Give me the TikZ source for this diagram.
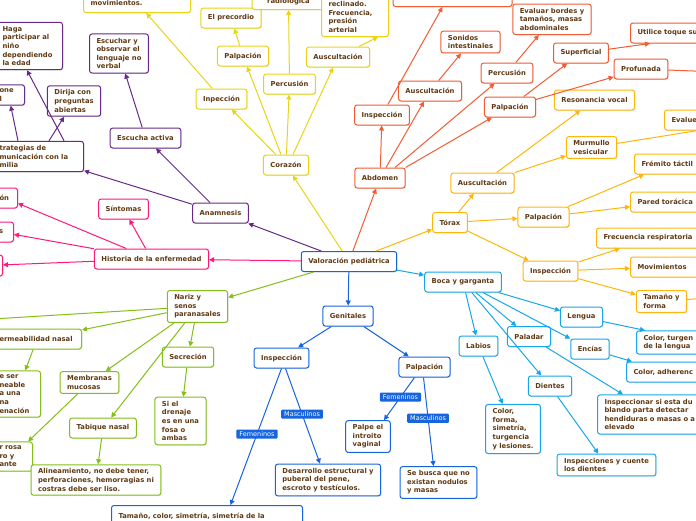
\documentclass[tikz,border=0pt]{standalone}
\usepackage{fontspec}
\setmainfont{DejaVu Sans}
\usetikzlibrary{arrows.meta,positioning,shadows}
\definecolor{txtc}{RGB}{96,58,20}
\definecolor{yel}{RGB}{232,212,20}
\definecolor{red}{RGB}{240,92,52}
\definecolor{org}{RGB}{255,182,10}
\definecolor{cyn}{RGB}{24,166,234}
\definecolor{blu}{RGB}{22,100,222}
\definecolor{grn}{RGB}{132,190,24}
\definecolor{pnk}{RGB}{255,24,122}
\definecolor{pur}{RGB}{104,42,132}
\tikzset{
box/.style={draw, fill=white, rounded corners=2.5pt, line width=1pt, text=txtc,
  font=\bfseries\fontsize{6.8}{8.6}\selectfont, align=left, inner xsep=7pt,
  inner ysep=4pt, minimum height=20pt,
  drop shadow={shadow xshift=0.8pt, shadow yshift=-0.8pt, opacity=0.2}},
ybox/.style={box, draw=yel}, rbox/.style={box, draw=red},
obox/.style={box, draw=org}, cbox/.style={box, draw=cyn},
bbox/.style={box, draw=blu}, gbox/.style={box, draw=grn},
pbox/.style={box, draw=pnk}, ubox/.style={box, draw=pur},
link/.style={line width=1pt, -{Triangle[length=5pt,width=5pt]}},
yline/.style={link, yel}, rline/.style={link, red}, oline/.style={link, org},
cline/.style={link, cyn}, bline/.style={link, blu}, gline/.style={link, grn},
pline/.style={link, pnk}, uline/.style={link, pur},
tag/.style={fill=blu, text=white, font=\fontsize{6.5}{8}\selectfont,
  inner xsep=3pt, inner ysep=2pt, rounded corners=1pt},
}
\begin{document}
\begin{tikzpicture}[x=1pt,y=1pt,yscale=-1]
\useasboundingbox (0,0) rectangle (696,520);
\clip (0,0) rectangle (696,520);
%Root
\node[bbox] (valor) at (349,261.5) {Valoración pediátrica};
%Corazon
\node[ybox] (corazon) at (286,165) {Corazón};
\node[ybox] (inpec) at (221.5,99) {Inpección};
\node[ybox] (palpy) at (243,56) {Palpación};
\node[ybox] (percy) at (289.5,84) {Percusión};
\node[ybox] (ausy) at (338,57) {Auscultación};
\node[ybox] (precordio) at (231,18) {El precordio};
\node[ybox, anchor=south west, text width=93pt] (movim) at (83,13) {movimientos.};
\node[ybox, anchor=south, minimum width=73pt, minimum height=15pt, inner ysep=2pt] (radiol) at (288.5,10) {radiológica};
\node[ybox, anchor=south west, text width=53pt] (reclin) at (321,37) {reclinado.\\Frecuencia,\\presión\\arterial};
%Abdomen
\node[rbox] (abdomen) at (380,178) {Abdomen};
\node[rbox] (inspr) at (382,115) {Inspección};
\node[rbox] (ausr) at (430,91) {Auscultación};
\node[rbox] (percr) at (507,73) {Percusión};
\node[rbox] (palpr) at (510,107) {Palpación};
\node[rbox, anchor=south, minimum width=119pt, minimum height=30pt] (topr) at (452.5,7) {};
\node[rbox] (sonidos) at (470.5,42) {Sonidos\\intestinales};
\node[rbox, anchor=south] (bordes) at (552,35) {Evaluar bordes y\\tamaños, masas\\abdominales};
\node[rbox] (superf) at (581,53) {Superficial};
\node[rbox, anchor=west, text width=80pt] (utilice) at (630,33) {Utilice toque su};
\node[rbox] (profun) at (641,69) {Profunada};
%Torax
\node[obox] (torax) at (450,222.5) {Tórax};
\node[obox] (auso) at (482.5,183) {Auscultación};
\node[obox] (palpo) at (543.5,217) {Palpación};
\node[obox] (inspo) at (550.5,271) {Inspección};
\node[obox] (resvoc) at (594.5,100) {Resonancia vocal};
\node[obox] (murm) at (591.5,147.5) {Murmullo\\vesicular};
\node[obox, anchor=west, text width=50pt] (evalue) at (664,120) {Evalue};
\node[obox, anchor=west, text width=60pt] (fremito) at (634,164) {Frémito táctil};
\node[obox, anchor=west, text width=65pt] (pared) at (630,202) {Pared torácica};
\node[obox, anchor=west, text width=100pt] (frecresp) at (596,238) {Frecuencia respiratoria};
\node[obox, anchor=west, text width=65pt] (movs) at (630,267) {Movimientos};
\node[obox] (tamfor) at (661.5,301.5) {Tamaño y\\forma};
%Boca y garganta
\node[cbox] (boca) at (463,282) {Boca y garganta};
\node[cbox] (lengua) at (581.5,317) {Lengua};
\node[cbox] (paladar) at (529,336.5) {Paladar};
\node[cbox] (encias) at (590,349) {Encías};
\node[cbox] (labios) at (478.5,346) {Labios};
\node[cbox] (dientes) at (550,386) {Dientes};
\node[cbox, anchor=west, text width=70pt] (colturg) at (636,342.5) {Color, turgen\\de la lengua};
\node[cbox, anchor=west, text width=75pt] (coladh) at (626,372) {Color, adherenc};
\node[cbox, anchor=west, text width=100pt] (inspsi) at (597,414.5) {Inspeccionar si esta du\\blando parta detectar\\hendiduras o masas o a\\elevado};
\node[cbox] (colforma) at (513,429) {Color,\\forma,\\simetría,\\turgencia\\y lesiones.};
\node[cbox] (inspcu) at (606.5,465) {Inspecciones y cuente\\los dientes};
%Genitales
\node[bbox] (genit) at (348,316) {Genitales};
\node[bbox] (inspb) at (281.5,358) {Inspección};
\node[bbox] (palpb) at (424.5,367) {Palpación};
\node[bbox] (palpe) at (368,436.5) {Palpe el\\introito\\vaginal};
\node[bbox] (sebusca) at (438.5,482.5) {Se busca que no\\existan nodulos\\y masas};
\node[bbox] (desarr) at (328,480) {Desarrollo estructural y\\puberal del pene,\\escroto y testículos.};
\node[bbox, anchor=north west, text width=177pt, minimum height=22pt] (tamcol) at (111,505) {Tamaño, color, simetría, simetría de la};
%Anamnesis
\node[ubox] (anam) at (220.5,213) {Anamnesis};
\node[ubox] (escucha) at (145.5,138) {Escucha activa};
\node[ubox] (escobs) at (119,53.5) {Escuchar y\\observar el\\lenguaje no\\verbal};
\node[ubox, anchor=east, text width=77pt] (estrat) at (84,156.5) {trategias de\\municación con la\\milia};
\node[ubox, anchor=east, text width=53pt] (haga) at (63,46) {Haga\\participar al\\niño\\dependiendo\\la edad};
\node[ubox] (dirija) at (74,101) {Dirija con\\preguntas\\abiertas};
\node[ubox, anchor=east, text width=18pt] (oneleft) at (25,95) {one\\l};
%Historia
\node[pbox] (historia) at (151.5,259) {Historia de la enfermedad};
\node[pbox] (sintomas) at (123.5,209) {Síntomas};
\node[pbox, anchor=east, text width=11pt] (pk1) at (18,198) {ón};
\node[pbox, anchor=east, text width=12pt] (pk2) at (14,232) {es};
\node[pbox, anchor=east, minimum width=30pt, minimum height=21pt] (pk3) at (3,265.5) {};
%Nariz
\node[gbox] (nariz) at (197.5,306.5) {Nariz y\\senos\\paranasales};
\node[gbox, anchor=east, text width=75pt] (permea) at (82,339) {ermeabilidad nasal};
\node[gbox, anchor=east, text width=34pt] (eser) at (41,394) {e ser\\neable\\a una\\na\\enación};
\node[gbox, anchor=east, text width=26pt] (rosa) at (33,456.5) {r rosa\\ro y\\ante};
\node[gbox] (membr) at (89.5,382.5) {Membranas\\mucosas};
\node[gbox] (tabique) at (103,428) {Tabique nasal};
\node[gbox] (alin) at (96,480) {Alineamiento, no debe tener,\\perforaciones, hemorragias ni\\costras debe ser liso.};
\node[gbox] (secrec) at (188,357) {Secreción};
\node[gbox] (drenaje) at (180.5,421) {Si el\\drenaje\\es en una\\fosa o\\ambas};
%Loose ends
\coordinate (profout) at (720,72);
\coordinate (murmout) at (720,127);
\coordinate (tamout) at (720,297);
\coordinate (narizout) at (-8,319);
%Straight Lines
\draw[yline] (valor) -- (corazon);
\draw[yline] (corazon) -- (inpec);
\draw[yline] ([xshift=-5pt]corazon.north) -- (palpy);
\draw[yline] (corazon) -- (percy);
\draw[yline] ([xshift=7pt]corazon.north) -- (ausy);
\draw[yline] (inpec) -- (movim);
\draw[yline] (palpy) -- (precordio);
\draw[yline] (percy) -- (radiol);
\draw[yline] (ausy) -- ([xshift=23pt]reclin.south);
\draw[rline] (valor) -- (abdomen);
\draw[rline] (abdomen) -- (inspr);
\draw[rline] (abdomen) -- (ausr);
\draw[rline] ([xshift=15pt]abdomen.north) -- (percr);
\draw[rline] (abdomen.north east) -- (palpr);
\draw[rline] (inspr) -- ([xshift=-10pt]topr.south);
\draw[rline] (ausr) -- (sonidos);
\draw[rline] (percr) -- (bordes);
\draw[rline] (palpr) -- (superf);
\draw[rline] (palpr) -- (profun);
\draw[rline] (superf) -- ([xshift=20pt]utilice.south west);
\draw[rline] (profun) -- (profout);
\draw[oline] (valor) -- (torax);
\draw[oline] (torax) -- (auso);
\draw[oline] (torax) -- (palpo);
\draw[oline] (torax) -- (inspo);
\draw[oline] (auso) -- (resvoc);
\draw[oline] (auso) -- (murm);
\draw[oline] (murm) -- (murmout);
\draw[oline] (palpo) -- ([xshift=10pt]fremito.south west);
\draw[oline] (palpo) -- (pared);
\draw[oline] (inspo) -- ([xshift=24pt]frecresp.south west);
\draw[oline] (inspo) -- (movs);
\draw[oline] (inspo) -- (tamfor);
\draw[oline] (tamfor) -- (tamout);
\draw[cline] (valor) -- (boca);
\draw[cline] (boca) -- (lengua);
\draw[cline] (boca) -- (paladar);
\draw[cline] (boca) -- (labios);
\draw[cline] (boca) -- (encias);
\draw[cline] (boca) -- (dientes);
\draw[cline] (paladar) -- ([xshift=26pt]inspsi.north west);
\draw[cline] (lengua) -- ([xshift=9pt]colturg.north west);
\draw[cline] (encias) -- ([xshift=6pt]coladh.north west);
\draw[cline] (labios) -- (colforma);
\draw[cline] (dientes) -- (inspcu);
\draw[bline] (valor) -- (genit);
\draw[bline] (genit) -- (inspb);
\draw[bline] (genit) -- (palpb);
\draw[bline] (inspb.south) -- node[tag, pos=0.48] (feminsp) {Femeninos} ([xshift=23.5pt]tamcol.north);
\draw[bline] ([xshift=4pt]inspb.south) -- node[tag, pos=0.48] (mascinsp) {Masculinos} ([xshift=-8pt]desarr.north);
\draw[bline] ([xshift=-10pt]palpb.south) -- node[tag, pos=0.46] (fempalp) {Femeninos} ([xshift=16pt]palpe.north);
\draw[bline] ([xshift=-1pt]palpb.south) -- node[tag, pos=0.46] (mascpalp) {Masculinos} ([xshift=-5pt]sebusca.north);
\draw[uline] (valor) -- (anam);
\draw[uline] (anam) -- (escucha);
\draw[uline] (anam) -- (estrat);
\draw[uline] (escucha) -- (escobs);
\draw[uline] ([xshift=-20pt]estrat.north east) -- ([xshift=-2pt]haga.south);
\draw[uline] ([xshift=-35pt]estrat.north east) -- (dirija);
\draw[uline] ([xshift=-66pt]estrat.north east) -- (oneleft);
\draw[pline] (valor) -- (historia);
\draw[pline] (historia) -- (sintomas);
\draw[pline] (historia) -- (pk1);
\draw[pline] (historia) -- (pk2);
\draw[pline] (historia) -- (pk3);
\draw[gline] (valor) -- (nariz);
\draw[gline] (nariz) -- (narizout);
\draw[gline] (nariz) -- (permea);
\draw[gline] (nariz) -- (membr);
\draw[gline] (nariz) -- (tabique);
\draw[gline] (nariz) -- (secrec);
\draw[gline] (permea) -- (eser);
\draw[gline] (membr) -- (rosa);
\draw[gline] (tabique) -- (alin);
\draw[gline] (secrec) -- (drenaje);
\end{tikzpicture}
\end{document}
